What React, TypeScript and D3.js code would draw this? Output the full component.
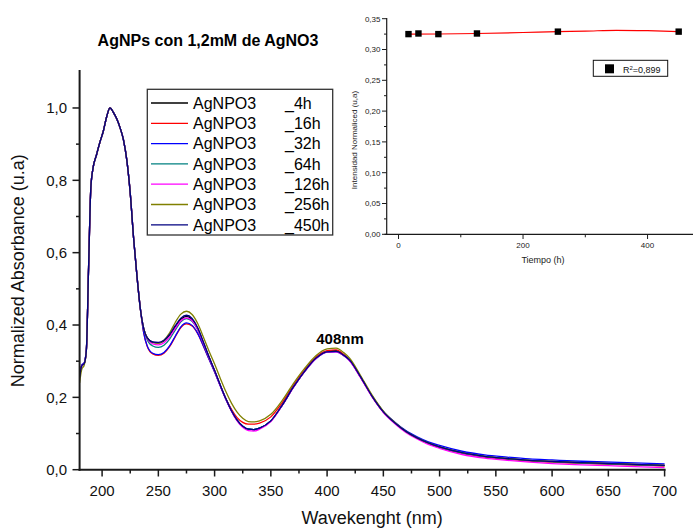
import React from "react";
import * as d3 from "d3";

const wavelengths = [180,182,184,186,188,190,192,195,198,201,204,207,210,213,216,219,222,225,228,231,234,237,240,245,250,255,260,265,270,275,280,285,290,295,300,305,310,315,320,325,330,335,340,350,360,370,380,390,400,408,415,420,430,440,450,460,470,480,490,500,520,540,560,580,600,620,640,660,680,700];

const s4h = [0.255,0.288,0.293,0.330,0.560,0.780,0.835,0.870,0.905,0.935,0.975,1.000,0.988,0.970,0.945,0.912,0.855,0.765,0.640,0.535,0.445,0.390,0.365,0.352,0.350,0.356,0.372,0.395,0.416,0.424,0.415,0.390,0.352,0.312,0.274,0.234,0.196,0.163,0.137,0.120,0.112,0.111,0.115,0.135,0.178,0.228,0.272,0.308,0.327,0.329,0.317,0.303,0.255,0.203,0.160,0.130,0.106,0.088,0.074,0.063,0.047,0.037,0.031,0.026,0.023,0.020,0.018,0.016,0.014,0.012];
const s16h = [0.255,0.288,0.293,0.330,0.560,0.780,0.835,0.870,0.905,0.935,0.975,1.000,0.988,0.970,0.945,0.912,0.855,0.765,0.640,0.535,0.445,0.378,0.342,0.320,0.316,0.322,0.340,0.367,0.393,0.403,0.397,0.376,0.342,0.306,0.271,0.233,0.197,0.167,0.144,0.131,0.126,0.126,0.129,0.146,0.185,0.233,0.276,0.311,0.329,0.331,0.318,0.303,0.255,0.203,0.160,0.130,0.106,0.087,0.073,0.061,0.045,0.035,0.029,0.024,0.021,0.018,0.016,0.014,0.012,0.010];
const s32h = [0.258,0.290,0.295,0.332,0.560,0.780,0.835,0.870,0.905,0.935,0.975,1.000,0.988,0.970,0.945,0.912,0.855,0.765,0.640,0.535,0.445,0.378,0.343,0.322,0.318,0.324,0.342,0.369,0.395,0.406,0.399,0.377,0.343,0.306,0.270,0.232,0.195,0.163,0.137,0.120,0.112,0.111,0.115,0.135,0.178,0.228,0.272,0.307,0.325,0.326,0.315,0.302,0.255,0.204,0.161,0.132,0.108,0.091,0.077,0.067,0.051,0.041,0.035,0.030,0.027,0.024,0.022,0.020,0.018,0.016];
const s64h = [0.255,0.288,0.293,0.330,0.560,0.780,0.835,0.870,0.905,0.935,0.975,1.000,0.988,0.970,0.945,0.912,0.855,0.765,0.640,0.535,0.445,0.390,0.360,0.342,0.338,0.344,0.361,0.386,0.409,0.418,0.410,0.387,0.349,0.310,0.273,0.234,0.196,0.163,0.137,0.120,0.112,0.111,0.115,0.135,0.178,0.228,0.272,0.308,0.326,0.327,0.315,0.303,0.255,0.203,0.160,0.130,0.106,0.088,0.074,0.062,0.046,0.036,0.030,0.025,0.022,0.019,0.017,0.015,0.013,0.011];
const s126h = [0.255,0.288,0.293,0.330,0.560,0.780,0.835,0.870,0.905,0.935,0.975,1.000,0.988,0.970,0.945,0.912,0.855,0.765,0.640,0.535,0.445,0.390,0.363,0.348,0.345,0.351,0.367,0.391,0.412,0.420,0.412,0.388,0.350,0.310,0.273,0.233,0.195,0.162,0.135,0.117,0.108,0.107,0.112,0.133,0.177,0.227,0.271,0.307,0.325,0.326,0.315,0.301,0.253,0.201,0.158,0.128,0.103,0.085,0.070,0.059,0.042,0.032,0.026,0.021,0.017,0.014,0.012,0.010,0.008,0.006];
const s256h = [0.240,0.278,0.288,0.330,0.560,0.780,0.835,0.870,0.905,0.935,0.975,1.000,0.988,0.970,0.945,0.912,0.855,0.765,0.640,0.535,0.445,0.390,0.365,0.352,0.350,0.358,0.378,0.407,0.430,0.438,0.429,0.404,0.367,0.328,0.292,0.253,0.216,0.184,0.159,0.142,0.133,0.132,0.135,0.153,0.191,0.238,0.280,0.315,0.334,0.336,0.323,0.308,0.259,0.206,0.162,0.131,0.106,0.088,0.074,0.063,0.047,0.037,0.031,0.026,0.023,0.020,0.018,0.016,0.014,0.012];
const s450h = [0.255,0.288,0.293,0.330,0.560,0.780,0.835,0.870,0.905,0.935,0.975,1.000,0.988,0.970,0.945,0.912,0.855,0.765,0.640,0.535,0.445,0.390,0.365,0.353,0.352,0.358,0.374,0.398,0.419,0.427,0.418,0.392,0.353,0.312,0.274,0.234,0.196,0.163,0.137,0.120,0.112,0.111,0.115,0.135,0.178,0.228,0.272,0.308,0.326,0.327,0.316,0.303,0.255,0.203,0.160,0.130,0.106,0.088,0.074,0.063,0.047,0.037,0.031,0.026,0.023,0.020,0.018,0.016,0.014,0.012];

const seriesNames = ["_4h", "_16h", "_32h", "_64h", "_126h", "_256h", "_450h"];
const seriesColors = ["#000000", "#FF0000", "#0000FF", "#008080", "#FF00FF", "#808000", "#000080"];
const seriesValues = [s4h, s16h, s32h, s64h, s126h, s256h, s450h];

const xTicks = [200, 250, 300, 350, 400, 450, 500, 550, 600, 650, 700];
const xMinorTicks = [225, 275, 325, 375, 425, 475, 525, 575, 625, 675];
const yTicks = [0, 0.2, 0.4, 0.6, 0.8, 1.0];
const yMinorTicks = [0.1, 0.3, 0.5, 0.7, 0.9];

const insetTimes = [16, 32, 64, 126, 256, 450];
const insetValues = [0.325, 0.326, 0.325, 0.326, 0.329, 0.329];
const fitTimes = [16, 64, 126, 200, 256, 300, 350, 400, 450];
const fitValues = [0.3250, 0.3252, 0.3260, 0.3276, 0.3290, 0.3298, 0.3312, 0.3305, 0.3290];
const insetXTicks = [0, 200, 400];
const insetXMinor = [100, 300];
const insetYTicks = [0, 0.05, 0.1, 0.15, 0.2, 0.25, 0.3, 0.35];
const insetYMinor = [0.025, 0.075, 0.125, 0.175, 0.225, 0.275, 0.325];

const FONT = "'Liberation Sans', Arial, Helvetica, sans-serif";
const comma = (v: number, d: number) => v.toFixed(d).replace(".", ",");

export default function App() {
  React.useEffect(() => {
    document.body.style.margin = "0";
  }, []);

  const x = d3.scaleLinear().domain([180, 700]).range([79.6, 664.6]);
  const y = d3.scaleLinear().domain([0, 1.1]).range([469.7, 71.8]);

  const line = d3
    .line<number>()
    .x((_, i) => x(wavelengths[i]))
    .y((d) => y(d))
    .curve(d3.curveMonotoneX);

  const ix = d3.scaleLinear().domain([-19, 473]).range([386.7, 693]);
  const iy = d3.scaleLinear().domain([0, 0.35]).range([234.3, 18.7]);
  const fitLine = d3
    .line<number>()
    .x((_, i) => ix(fitTimes[i]))
    .y((d) => iy(d))
    .curve(d3.curveMonotoneX);

  const axisColor = "#1a1a1a";
  const legX = 147.3, legY = 89.3, legW = 185.4, legH = 145.7;

  return (
    <div style={{ position: "absolute", left: 0, top: 0 }}>
      <svg width={697} height={531} style={{ display: "block", background: "#fff" }} fontFamily={FONT}>
        <rect x={0} y={0} width={697} height={531} fill="#fff" />
        <text x={208} y={46} textAnchor="middle" fontSize={16} fontWeight="bold" fill="#000">
          AgNPs con 1,2mM de AgNO3
        </text>

        <g fill="none" strokeWidth={1.3}>
          {seriesValues.map((vals, i) => (
            <path key={i} d={line(vals) || ""} stroke={seriesColors[i]} />
          ))}
        </g>

        <line x1={x(180)} x2={x(180)} y1={70} y2={470.7} stroke={axisColor} strokeWidth={2} />
        <line x1={x(180) - 1} x2={x(700) + 1} y1={469.7} y2={469.7} stroke={axisColor} strokeWidth={2} />
        {xTicks.map((t) => (
          <g key={"xt" + t}>
            <line x1={x(t)} x2={x(t)} y1={469.7} y2={476.5} stroke={axisColor} strokeWidth={1.5} />
            <text x={x(t)} y={496} textAnchor="middle" fontSize={15} fill="#111">
              {t}
            </text>
          </g>
        ))}
        {xMinorTicks.map((t) => (
          <line key={"xm" + t} x1={x(t)} x2={x(t)} y1={469.7} y2={473.5} stroke={axisColor} strokeWidth={1.5} />
        ))}
        {yTicks.map((t) => (
          <g key={"yt" + t}>
            <line x1={72.5} x2={x(180)} y1={y(t)} y2={y(t)} stroke={axisColor} strokeWidth={1.5} />
            <text x={67} y={y(t)} dy="0.35em" textAnchor="end" fontSize={15} fill="#111">
              {comma(t, 1)}
            </text>
          </g>
        ))}
        {yMinorTicks.map((t) => (
          <line key={"ym" + t} x1={76} x2={x(180)} y1={y(t)} y2={y(t)} stroke={axisColor} strokeWidth={1.5} />
        ))}
        <text x={(x(180) + x(700)) / 2} y={524} textAnchor="middle" fontSize={18} fill="#111">
          Wavekenght (nm)
        </text>
        <text
          transform={`translate(24, ${(y(0) + y(1.1)) / 2}) rotate(-90)`}
          textAnchor="middle"
          fontSize={18}
          fill="#111"
        >
          Normalized Absorbance (u.a)
        </text>

        <text x={340} y={344} textAnchor="middle" fontSize={15} fontWeight="bold" fill="#000">
          408nm
        </text>

        <rect x={legX} y={legY} width={legW} height={legH} fill="#fff" stroke="#333" strokeWidth={1.3} />
        {seriesNames.map((n, i) => {
          const ry = 103 + i * 20.3;
          return (
            <g key={"lg" + i}>
              <line x1={151} x2={188} y1={ry} y2={ry} stroke={seriesColors[i]} strokeWidth={1.3} />
              <text x={193} y={ry + 5.8} fontSize={16} fill="#000">
                AgNPO3
              </text>
              <text x={285} y={ry + 5.8} fontSize={16} fill="#000">
                {n}
              </text>
            </g>
          );
        })}

        <g>
          <path d={fitLine(fitValues) || ""} fill="none" stroke="#FF0000" strokeWidth={1.2} />
          {insetTimes.map((t, i) => (
            <rect key={"ip" + i} x={ix(t) - 3.2} y={iy(insetValues[i]) - 3.2} width={6.4} height={6.4} fill="#000" />
          ))}
          <line x1={386.7} x2={386.7} y1={18} y2={234.8} stroke={axisColor} strokeWidth={1.2} />
          <line x1={384.5} x2={693} y1={234.3} y2={234.3} stroke={axisColor} strokeWidth={1.2} />
          {insetYTicks.map((t) => (
            <g key={"iyt" + t}>
              <line x1={382} x2={386.7} y1={iy(t)} y2={iy(t)} stroke={axisColor} strokeWidth={1} />
              <text x={380.5} y={iy(t)} dy="0.35em" textAnchor="end" fontSize={8} fill="#222">
                {comma(t, 2)}
              </text>
            </g>
          ))}
          {insetYMinor.map((t) => (
            <line key={"iym" + t} x1={384} x2={386.7} y1={iy(t)} y2={iy(t)} stroke={axisColor} strokeWidth={1} />
          ))}
          {insetXTicks.map((t) => (
            <g key={"ixt" + t}>
              <line x1={ix(t)} x2={ix(t)} y1={234.3} y2={239} stroke={axisColor} strokeWidth={1} />
              <text x={ix(t)} y={248} textAnchor="middle" fontSize={8} fill="#222">
                {t}
              </text>
            </g>
          ))}
          {insetXMinor.map((t) => (
            <line key={"ixm" + t} x1={ix(t)} x2={ix(t)} y1={234.3} y2={237.3} stroke={axisColor} strokeWidth={1} />
          ))}
          <text x={543} y={262.5} textAnchor="middle" fontSize={9} fill="#222">
            Tiempo (h)
          </text>
          <text transform="translate(357, 140) rotate(-90)" textAnchor="middle" fontSize={8} fill="#222">
            Intensidad Normaliced (u,a)
          </text>
          <rect x={593.3} y={60.3} width={74.4} height={16} fill="#fff" stroke="#111" strokeWidth={1} />
          <rect x={605} y={64.3} width={9} height={9} fill="#000" />
          <text x={623} y={72.8} fontSize={9} fill="#111">
            R<tspan dy={-3} fontSize={6}>2</tspan>
            <tspan dy={3}>=0,899</tspan>
          </text>
        </g>
      </svg>
    </div>
  );
}
